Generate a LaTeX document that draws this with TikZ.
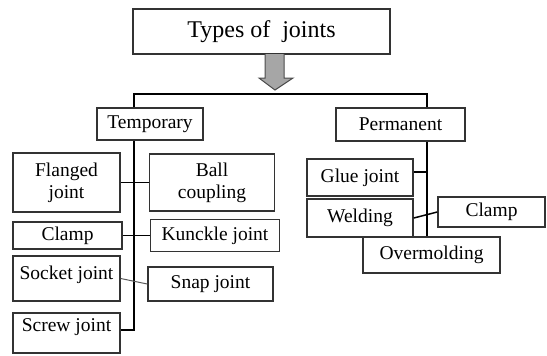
\documentclass[tikz,border=0pt]{standalone}
\usepackage{fontspec}
\setmainfont{Liberation Serif}
\usetikzlibrary{positioning}

\begin{document}
\begin{tikzpicture}[
    x=1bp, y=-1bp,
    jbox/.style={draw=black!80, line width=1.5bp, inner sep=0pt, align=center,
                 font=\fontsize{19.5bp}{22bp}\selectfont},
    headbox/.style={jbox, font=\fontsize{24bp}{28bp}\selectfont},
    link/.style={line width=1.5bp, black},
    thinlink/.style={line width=1bp, black!65},
    bigarrow/.style={draw=black!70, line width=1bp, fill=black!35, line join=miter}
  ]
    \useasboundingbox (0,0) rectangle (547,355);
    % Top
    \node[headbox, minimum width=257bp, minimum height=45bp] (types) at (261.5,31.5) {Types of\ \ joints};
    \node[jbox, minimum width=106bp, minimum height=32bp] (temp) at (150,124) {Temporary};
    \node[jbox, minimum width=129bp, minimum height=33bp] (perm) at (400.5,124.5) {Permanent};
    % Temporary joints
    \node[jbox, minimum width=107bp, minimum height=59bp] (flanged) at (66.5,182.5) {Flanged\\joint};
    \node[jbox, minimum width=125bp, minimum height=57bp, right=28bp of flanged] (ball) {Ball\\coupling};
    \node[jbox, minimum width=109bp, minimum height=27bp] (clampA) at (67.5,235.5) {Clamp};
    \node[jbox, minimum width=129bp, minimum height=32bp, right=27bp of clampA] (knuckle) {Kunckle joint};
    \node[jbox, minimum width=107bp, text height=23bp, text depth=22bp] (socket) at (66.5,278.5) {Socket joint};
    \node[jbox, minimum width=125bp, minimum height=34bp] (snap) at (210.5,284) {Snap joint};
    \node[jbox, minimum width=107bp, text height=18bp, text depth=22bp] (screw) at (66.5,333) {Screw joint};
    % Permanent joints
    \node[jbox, minimum width=106bp, minimum height=37bp] (glue) at (360,177.5) {Glue joint};
    \node[jbox, minimum width=106bp, minimum height=38bp] (weld) at (360,218) {Welding};
    \node[jbox, minimum width=107bp, minimum height=30bp] (clampB) at (491.5,212) {Clamp};
    \node[jbox, minimum width=137bp, minimum height=36bp] (mold) at (431.5,255) {Overmolding};
    % Arrow
    \draw[bigarrow] (265,54) -- (265,78) -- (259,78) -- (275,90) -- (293,78) -- (284,78) -- (284,54);
    % Trunks
    \coordinate (brL) at (134,94);
    \coordinate (brR) at (427,94);
    \coordinate (tL) at (134,330);
    \coordinate (tR) at (427,238);
    \draw[link] (temp.north -| brL) -- (brL) -- (brR) -- (perm.north -| brR);
    \draw[link] (temp.south -| tL) -- (tL) -- (screw.east |- tL);
    \draw[link] (perm.south -| tR) -- (mold.north -| tR);
    % Branches
    \draw[link] (flanged.east) -- (ball.west);
    \draw[link] (clampA.east) -- (knuckle.west);
    \draw[thinlink] (socket.east) -- (snap.west);
    \coordinate (gl) at ([yshift=5.5bp]glue.east);
    \draw[link] (gl) -- (gl -| tR);
    \draw[link] (weld.east) -- (clampB.west);
  \end{tikzpicture}
\end{document}
